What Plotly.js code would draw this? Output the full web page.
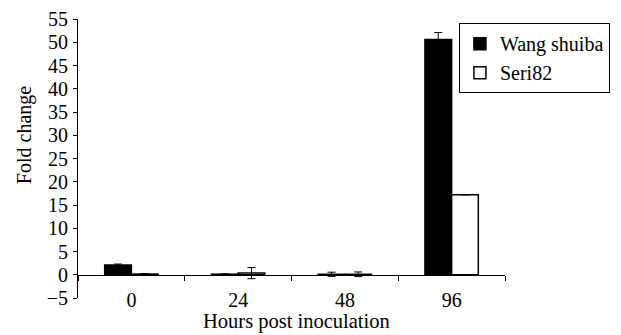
<!DOCTYPE html>
<html>
<head>
<meta charset="utf-8">
<script src="https://cdn.plot.ly/plotly-3.0.1.min.js"></script>
<style>html,body{margin:0;padding:0;background:#fff;}#chart{width:621px;height:335px;}</style>
</head>
<body>
<div id="chart"></div>
<script>
const categories = ['0', '24', '48', '96'];
const wangShuiba = [2.1, 0.12, 0.1, 50.6];
const wangShuibaErr = [0.2, 0.1, 0.45, 1.5];
const seri82 = [0.15, 0.35, 0.1, 17.2];
const seri82Err = [0.1, 1.2, 0.5, 0];
const yTicks = [-5, 0, 5, 10, 15, 20, 25, 30, 35, 40, 45, 50, 55];

const traces = [
  {
    type: 'bar', name: 'Wang shuiba', x: categories, y: wangShuiba,
    marker: {color: '#000', line: {color: '#000', width: 1.5}},
    error_y: {type: 'data', array: wangShuibaErr, visible: true, color: '#000', thickness: 1, width: 4}
  },
  {
    type: 'bar', name: 'Seri82', x: categories, y: seri82,
    marker: {color: '#fff', line: {color: '#000', width: 1.5}},
    error_y: {type: 'data', array: seri82Err, visible: true, color: '#000', thickness: 1, width: 4}
  }
];

const layout = {
  width: 621, height: 335,
  margin: {l: 78, r: 115, t: 19, b: 37, pad: 0},
  paper_bgcolor: '#fff', plot_bgcolor: '#fff',
  font: {family: '"Liberation Serif", "Times New Roman", serif', size: 20, color: '#000'},
  barmode: 'group', bargap: 0.5, bargroupgap: 0,
  showlegend: true,
  legend: {
    x: 0.89, y: 0.985, xanchor: 'left', yanchor: 'top',
    bgcolor: '#fff', bordercolor: '#000', borderwidth: 1,
    font: {size: 20}, tracegroupgap: 0
  },
  xaxis: {
    type: 'category', anchor: 'free', position: 0.0824,
    showline: true, linecolor: '#000', linewidth: 1,
    ticks: 'outside', ticklen: 5, tickcolor: '#000', tickwidth: 1,
    tickson: 'boundaries', showgrid: false, zeroline: false,
    ticklabelstandoff: 7
  },
  yaxis: {
    range: [-5, 55], tickvals: yTicks,
    showline: true, linecolor: '#000', linewidth: 1,
    ticks: 'outside', ticklen: 4, tickcolor: '#000', tickwidth: 1,
    showgrid: false, zeroline: false, ticklabelstandoff: 1
  },
  annotations: [
    {text: 'Fold change', xref: 'paper', yref: 'paper', x: -0.1262, y: 0.584,
     textangle: -90, showarrow: false, xanchor: 'center', yanchor: 'middle', font: {size: 20}},
    {text: 'Hours post inoculation', xref: 'paper', yref: 'paper', x: 0.512, y: -0.086,
     showarrow: false, xanchor: 'center', yanchor: 'middle', font: {size: 20.5}}
  ]
};

Plotly.newPlot('chart', traces, layout, {displayModeBar: false, staticPlot: true});
</script>
</body>
</html>
